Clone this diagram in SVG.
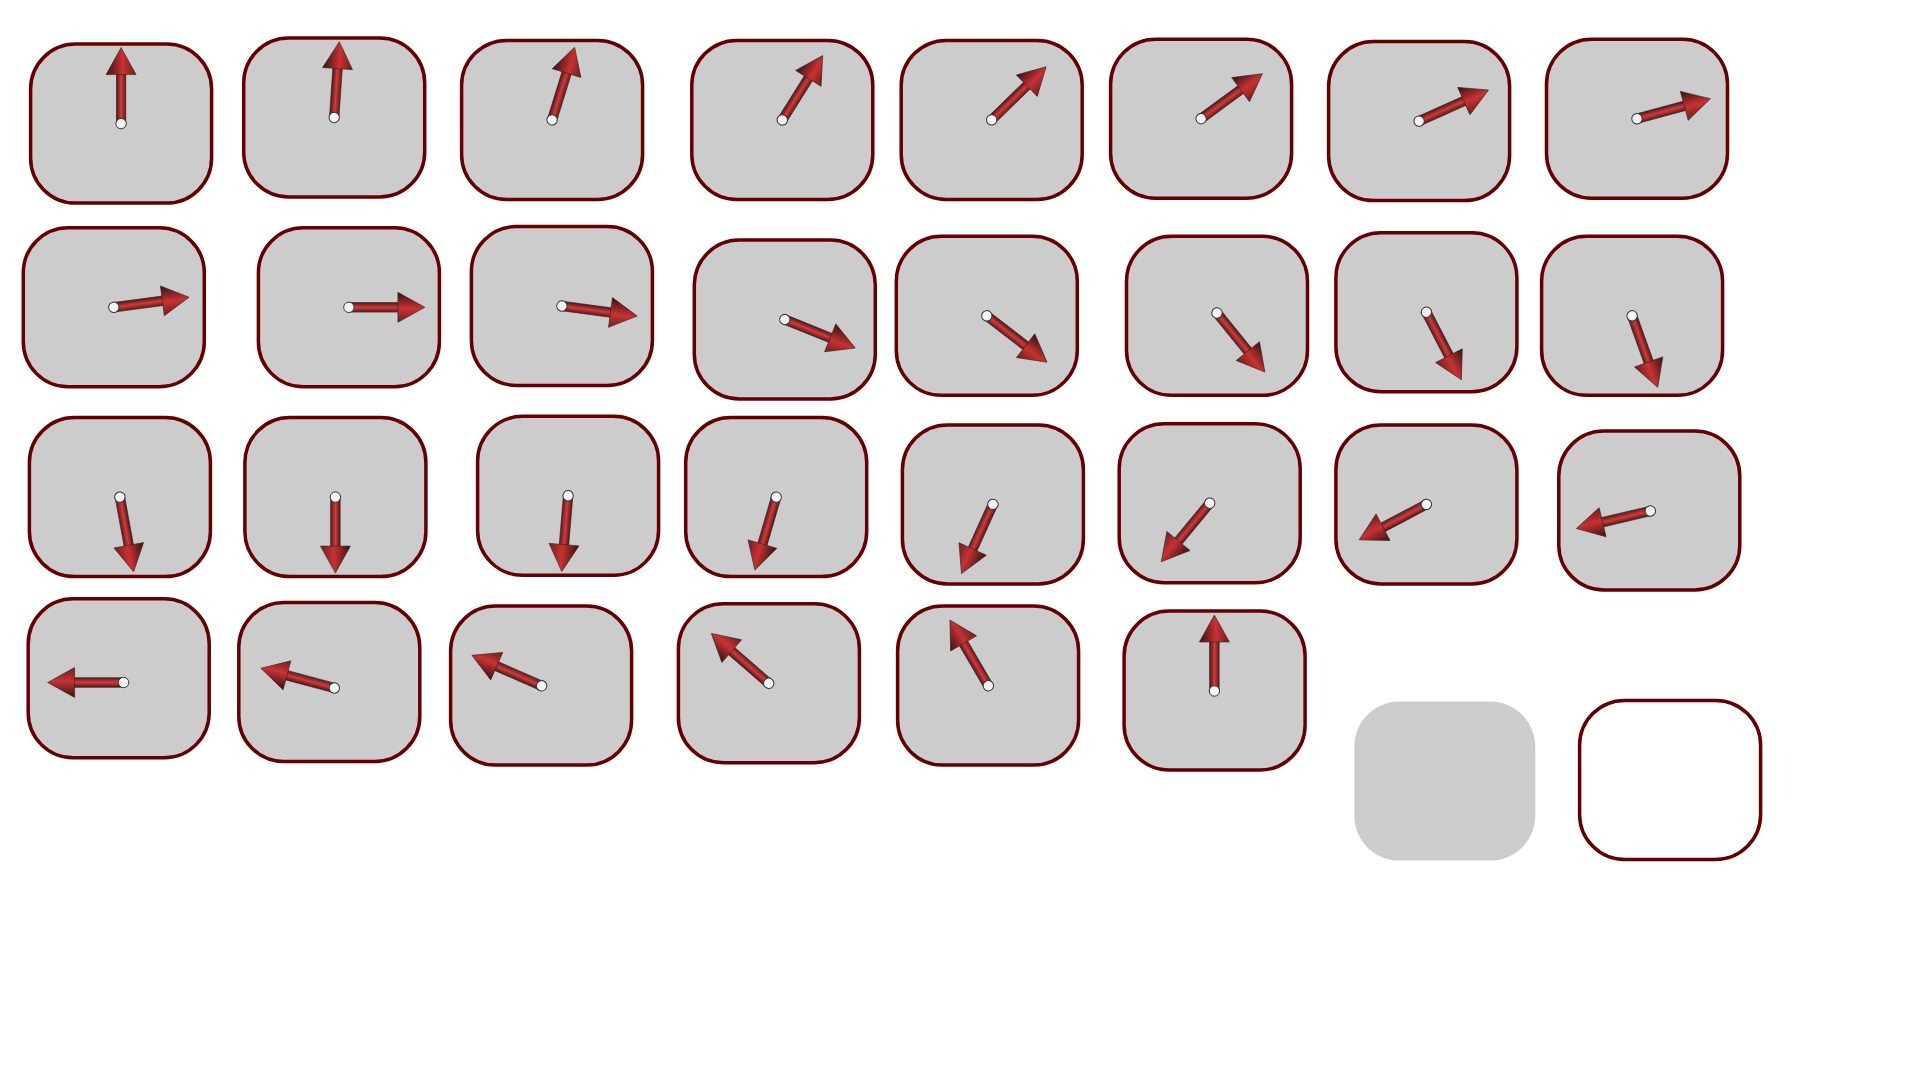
<svg xmlns="http://www.w3.org/2000/svg" xmlns:xlink="http://www.w3.org/1999/xlink" width="1920" height="1080" viewBox="0 0 1920 1080">
<style>
.box{fill:#cccccc;stroke:#660000;stroke-width:3.5}
.plain{fill:#cccccc;stroke:none}
.empty{fill:#ffffff;stroke:#660000;stroke-width:3.5}
.shaft{fill:url(#gShaft);stroke:#3a2020;stroke-width:0.6}
.head{fill:url(#gHead);stroke:#3a2020;stroke-width:0.6}
.pivot{fill:#f4f4f4;stroke:#333333;stroke-width:1}
</style>
<defs>
<linearGradient id="gShaft" gradientUnits="userSpaceOnUse" x1="-4.75" y1="0" x2="4.75" y2="0">
<stop offset="0" stop-color="#4a1818"/>
<stop offset="0.5" stop-color="#d23a3a"/>
<stop offset="1" stop-color="#5a1c1c"/>
</linearGradient>
<linearGradient id="gHead" gradientUnits="userSpaceOnUse" x1="-15" y1="0" x2="15" y2="0">
<stop offset="0" stop-color="#351212"/>
<stop offset="0.55" stop-color="#c83232"/>
<stop offset="1" stop-color="#6e1e1e"/>
</linearGradient>
<g id="arrow">
<rect class="shaft" x="-4.75" y="-51" width="9.5" height="51"/>
<polygon class="head" points="0,-76 15,-49 -15,-49"/>
<circle class="pivot" cx="0" cy="0" r="5.2"/>
</g>
</defs>
<rect width="1920" height="1080" fill="#ffffff"/>
<g id="node1"><rect class="box" x="30.6" y="44.1" width="181" height="159" rx="45"/><use xlink:href="#arrow" transform="translate(121.1,123.6) rotate(0)"/></g>
<g id="node2"><rect class="box" x="243.7" y="38.0" width="181" height="159" rx="45"/><use xlink:href="#arrow" transform="translate(334.2,117.5) rotate(3.9)"/></g>
<g id="node3"><rect class="box" x="461.6" y="40.4" width="181" height="159" rx="45"/><use xlink:href="#arrow" transform="translate(552.1,119.9) rotate(17.2)"/></g>
<g id="node4"><rect class="box" x="691.8" y="40.4" width="181" height="159" rx="45"/><use xlink:href="#arrow" transform="translate(782.3,119.9) rotate(32.1)"/></g>
<g id="node5"><rect class="box" x="901.2" y="40.4" width="181" height="159" rx="45"/><use xlink:href="#arrow" transform="translate(991.7,119.9) rotate(45.7)"/></g>
<g id="node6"><rect class="box" x="1110.6" y="39.2" width="181" height="159" rx="45"/><use xlink:href="#arrow" transform="translate(1201.1,118.7) rotate(53.7)"/></g>
<g id="node7"><rect class="box" x="1328.6" y="41.6" width="181" height="159" rx="45"/><use xlink:href="#arrow" transform="translate(1419.1,121.1) rotate(65.9)"/></g>
<g id="node8"><rect class="box" x="1546.5" y="39.2" width="181" height="159" rx="45"/><use xlink:href="#arrow" transform="translate(1637.0,118.7) rotate(74.8)"/></g>
<g id="node9"><rect class="box" x="23.3" y="227.8" width="181" height="159" rx="45"/><use xlink:href="#arrow" transform="translate(113.8,307.3) rotate(82.4)"/></g>
<g id="node10"><rect class="box" x="258.4" y="227.8" width="181" height="159" rx="45"/><use xlink:href="#arrow" transform="translate(348.9,307.3) rotate(90)"/></g>
<g id="node11"><rect class="box" x="471.4" y="226.5" width="181" height="159" rx="45"/><use xlink:href="#arrow" transform="translate(561.9,306.0) rotate(97.6)"/></g>
<g id="node12"><rect class="box" x="694.3" y="240.0" width="181" height="159" rx="45"/><use xlink:href="#arrow" transform="translate(784.8,319.5) rotate(112)"/></g>
<g id="node13"><rect class="box" x="896.3" y="236.3" width="181" height="159" rx="45"/><use xlink:href="#arrow" transform="translate(986.8,315.8) rotate(127.6)"/></g>
<g id="node14"><rect class="box" x="1126.5" y="236.3" width="181" height="159" rx="45"/><use xlink:href="#arrow" transform="translate(1217.0,313.0) rotate(141)"/></g>
<g id="node15"><rect class="box" x="1335.9" y="232.7" width="181" height="159" rx="45"/><use xlink:href="#arrow" transform="translate(1426.4,312.2) rotate(152.6)"/></g>
<g id="node16"><rect class="box" x="1541.6" y="236.3" width="181" height="159" rx="45"/><use xlink:href="#arrow" transform="translate(1632.1,315.8) rotate(160.3)"/></g>
<g id="node17"><rect class="box" x="29.4" y="417.6" width="181" height="159" rx="45"/><use xlink:href="#arrow" transform="translate(119.9,497.1) rotate(169.6)"/></g>
<g id="node18"><rect class="box" x="244.9" y="417.6" width="181" height="159" rx="45"/><use xlink:href="#arrow" transform="translate(335.4,497.1) rotate(180)"/></g>
<g id="node19"><rect class="box" x="477.6" y="416.3" width="181" height="159" rx="45"/><use xlink:href="#arrow" transform="translate(568.1,495.8) rotate(184.8)"/></g>
<g id="node20"><rect class="box" x="685.7" y="417.6" width="181" height="159" rx="45"/><use xlink:href="#arrow" transform="translate(776.2,497.1) rotate(196.3)"/></g>
<g id="node21"><rect class="box" x="902.4" y="424.9" width="181" height="159" rx="45"/><use xlink:href="#arrow" transform="translate(992.9,504.4) rotate(204.4)"/></g>
<g id="node22"><rect class="box" x="1119.2" y="423.7" width="181" height="159" rx="45"/><use xlink:href="#arrow" transform="translate(1209.7,503.2) rotate(219.6)"/></g>
<g id="node23"><rect class="box" x="1335.9" y="424.9" width="181" height="159" rx="45"/><use xlink:href="#arrow" transform="translate(1426.4,504.4) rotate(242.2)"/></g>
<g id="node24"><rect class="box" x="1558.8" y="431.0" width="181" height="159" rx="45"/><use xlink:href="#arrow" transform="translate(1650.3,511.0) rotate(256.7)"/></g>
<g id="node25"><rect class="box" x="28.2" y="598.8" width="181" height="159" rx="45"/><use xlink:href="#arrow" transform="translate(123.6,682.5) rotate(270)"/></g>
<g id="node26"><rect class="box" x="238.8" y="602.5" width="181" height="159" rx="45"/><use xlink:href="#arrow" transform="translate(334.3,688.0) rotate(285)"/></g>
<g id="node27"><rect class="box" x="450.6" y="606.1" width="181" height="159" rx="45"/><use xlink:href="#arrow" transform="translate(541.6,685.8) rotate(293.6)"/></g>
<g id="node28"><rect class="box" x="678.4" y="603.7" width="181" height="159" rx="45"/><use xlink:href="#arrow" transform="translate(768.7,683.3) rotate(311)"/></g>
<g id="node29"><rect class="box" x="897.6" y="606.1" width="181" height="159" rx="45"/><use xlink:href="#arrow" transform="translate(988.3,685.7) rotate(329.7)"/></g>
<g id="node30"><rect class="box" x="1124.1" y="611.0" width="181" height="159" rx="45"/><use xlink:href="#arrow" transform="translate(1214.4,691.0) rotate(0)"/></g>
<g id="node31"><rect class="plain" x="1354.3" y="701.6" width="181" height="159" rx="45"/></g>
<g id="node32"><rect class="empty" x="1579.6" y="700.4" width="181" height="159" rx="45"/></g>
</svg>
